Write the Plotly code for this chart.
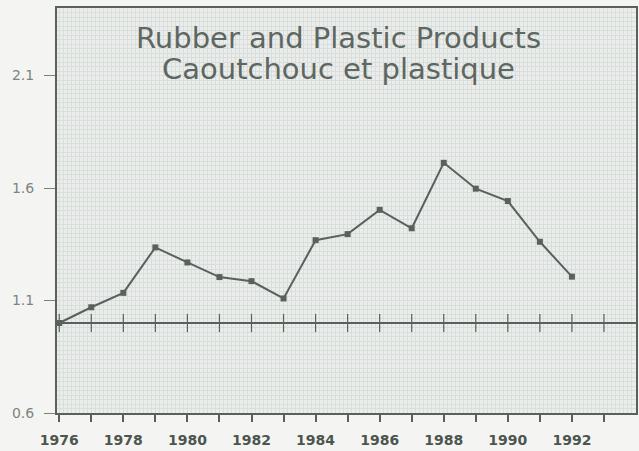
import plotly.graph_objects as go

years = list(range(1976, 1993))
values = [1.00, 1.070, 1.134, 1.336, 1.269, 1.204, 1.186, 1.109, 1.368,
          1.395, 1.503, 1.421, 1.712, 1.597, 1.542, 1.361, 1.206]

base_years = list(range(1976, 1994))
base_values = [1.0] * len(base_years)

x_labels = [str(y) if y % 2 == 0 else "" for y in base_years]
y_ticks = [0.6, 1.1, 1.6, 2.1]

title_en = "Rubber and Plastic Products"
title_fr = "Caoutchouc et plastique"

ink = "#58615b"

fig = go.Figure()

fig.add_trace(go.Scatter(
    x=base_years, y=base_values,
    mode="markers",
    marker=dict(symbol="line-ns-open", size=13, color=ink,
                line=dict(color=ink, width=1.2)),
    hoverinfo="skip",
    showlegend=False,
))

fig.add_trace(go.Scatter(
    x=years, y=values,
    mode="lines+markers",
    line=dict(color=ink, width=2),
    marker=dict(symbol="square", size=6, color=ink),
    showlegend=False,
))

fig.add_hline(y=1.0, line=dict(color=ink, width=2), layer="above")

fig.add_annotation(text=title_en, x=0.487, y=0.925, xref="paper", yref="paper",
                   showarrow=False, xanchor="center", yanchor="middle",
                   font=dict(family="DejaVu Sans", size=29, color="#5e6661"))
fig.add_annotation(text=title_fr, x=0.487, y=0.849, xref="paper", yref="paper",
                   showarrow=False, xanchor="center", yanchor="middle",
                   font=dict(family="DejaVu Sans", size=29, color="#5e6661"))

fig.update_layout(
    width=639, height=451,
    margin=dict(l=57, r=1, t=8, b=38),
    paper_bgcolor="#f4f5f3",
    plot_bgcolor="#eaedeb",
)

fig.update_xaxes(
    range=[1975.93, 1994],
    tickvals=base_years, ticktext=x_labels,
    ticks="outside", ticklen=7, tickwidth=1.5, tickcolor=ink,
    ticklabelstandoff=6,
    tickfont=dict(family="DejaVu Sans", size=14, color="#4d554f", weight="bold"),
    showgrid=False, zeroline=False,
    showline=True, linecolor=ink, linewidth=2, mirror=True,
    minor=dict(dtick=0.125, tick0=1976, showgrid=True, gridcolor="#dadedb", gridwidth=1),
)

fig.update_yaxes(
    range=[0.6, 2.4],
    tickvals=y_ticks, ticktext=[str(v) for v in y_ticks],
    ticks="outside", ticklen=11, tickwidth=1.2, tickcolor="#7a827c",
    ticklabelstandoff=7,
    tickfont=dict(family="DejaVu Sans", size=14, color="#7d847f"),
    showgrid=False, zeroline=False,
    showline=True, linecolor=ink, linewidth=2, mirror=True,
    minor=dict(dtick=0.02, tick0=0.6, showgrid=True, gridcolor="#dadedb", gridwidth=1),
)

fig.write_html("out.html", config={"displayModeBar": False},
               post_script="document.body.style.margin='0';")
